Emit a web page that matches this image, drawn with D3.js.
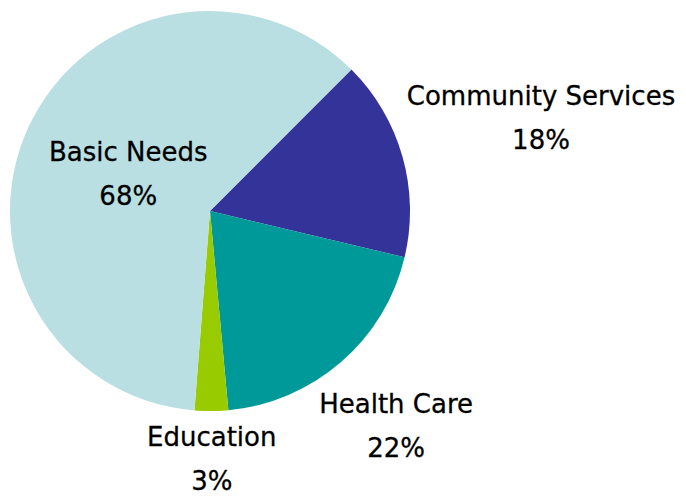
<!DOCTYPE html>
<html>
<head>
<meta charset="utf-8">
<script src="https://cdn.jsdelivr.net/npm/d3@7/dist/d3.min.js"></script>
<style>
  html, body { margin: 0; padding: 0; background: #ffffff; }
  svg text { font-family: "DejaVu Sans", sans-serif; fill: #000; stroke: #000; stroke-width: 0.3px; }
</style>
</head>
<body>
<svg id="chart" width="686" height="496"></svg>
<script>
// Funding share by program area (percent)
const categories = ["Community Services", "Health Care", "Education", "Basic Needs"];
const values = [18, 22, 3, 68];
const colors = ["#343399", "#009999", "#99cc00", "#b9dfe3"];
// Label distance from the centre, as a fraction of the pie radius
const labelRadius = [1.72, 1.42, 1.24, 0.45];

const width = 686, height = 496;
const cx = 210, cy = 211, radius = 200;
const fontSize = 26, lineGap = 44;

const svg = d3.select("#chart");
const g = svg.append("g").attr("transform", `translate(${cx},${cy})`);

const rows = categories.map((c, i) => ({ name: c, value: values[i], color: colors[i], lr: labelRadius[i] }));

const pie = d3.pie()
  .sort(null)
  .value(d => d.value)
  .startAngle(Math.PI / 4)
  .endAngle(Math.PI / 4 + 2 * Math.PI);

const arcs = pie(rows);
const arc = d3.arc().innerRadius(0).outerRadius(radius);

g.selectAll("path.slice")
  .data(arcs)
  .join("path")
  .attr("class", "slice")
  .attr("d", arc)
  .attr("fill", d => d.data.color);

const fmt = d => d3.format(".0f")(d) + "%";

const labels = g.selectAll("text.label")
  .data(arcs)
  .join("text")
  .attr("class", "label")
  .attr("text-anchor", "middle")
  .attr("font-size", fontSize)
  .attr("transform", d => {
    const a = (d.startAngle + d.endAngle) / 2;
    const r = radius * d.data.lr;
    return `translate(${r * Math.sin(a)},${-r * Math.cos(a)})`;
  });

labels.append("tspan")
  .attr("x", 0)
  .attr("y", -lineGap / 2 + fontSize * 0.36)
  .text(d => d.data.name);

labels.append("tspan")
  .attr("x", 0)
  .attr("y", lineGap / 2 + fontSize * 0.36)
  .text(d => fmt(d.data.value));
</script>
</body>
</html>
